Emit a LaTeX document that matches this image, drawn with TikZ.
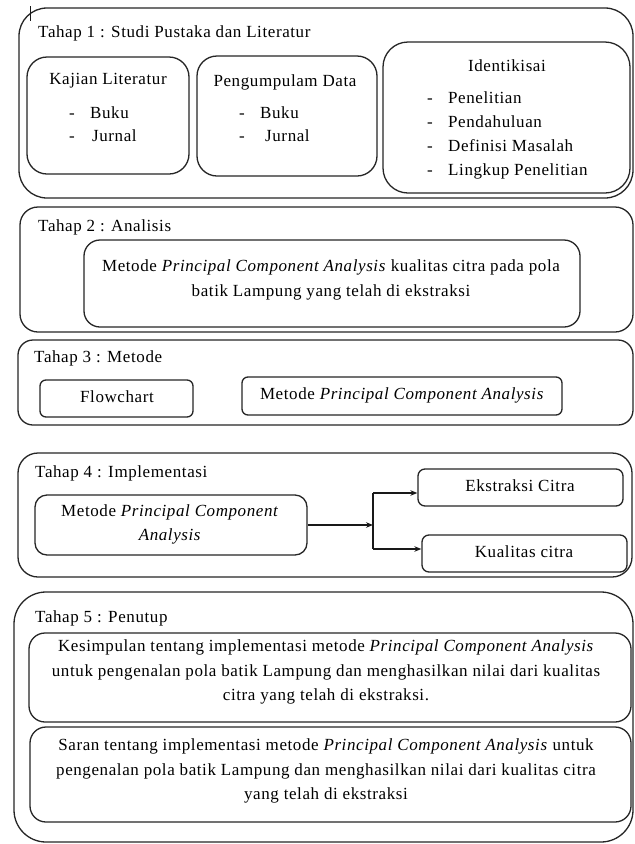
\documentclass[tikz,border=0pt]{standalone}
\usepackage{fontspec}
\setmainfont{Liberation Serif}[LetterSpace=3.5]
\usetikzlibrary{arrows.meta}
\begin{document}
\begin{tikzpicture}[x=1pt,y=-1pt,
  frame/.style={draw=black!85, line width=1.3pt, inner sep=0pt},
  lbl/.style={inner sep=0pt, font=\fontsize{17}{24.5}\selectfont, text height=12pt, text depth=4pt},
  para/.style={inner sep=0pt, font=\fontsize{17}{24.5}\selectfont, align=center},
  wire/.style={draw=black!90, line width=1.1pt},
  link/.style={wire, -{Stealth[length=7pt,width=5.5pt]}},
]
\useasboundingbox[fill=white] (0,0) rectangle (635,844);

% ---------- Tahap 1 ----------
\node[frame, rounded corners=28pt, minimum width=614pt, minimum height=190pt] (stage1) at (326,103) {};
\draw[wire, line width=0.8pt] (30,6) -- (30,21);
\node[lbl, anchor=west] (t1) at (38,33) {Tahap 1 : Studi Pustaka dan Literatur};

\node[frame, rounded corners=20pt, minimum width=162pt, minimum height=117pt] (kajian) at (108,115.5) {};
\node[lbl] (kajianT) at (108,80) {Kajian Literatur};
\node[lbl, anchor=west] (kajian1) at (69,114) {\makebox[21pt][l]{-}Buku};
\node[lbl, anchor=west] (kajian2) at (69,137) {\makebox[23pt][l]{-}Jurnal};

\node[frame, rounded corners=20pt, minimum width=180pt, minimum height=120pt] (kumpul) at (287,116) {};
\node[lbl] (kumpulT) at (285,82) {Pengumpulam Data};
\node[lbl, anchor=west] (kumpul1) at (239,114) {\makebox[21pt][l]{-}Buku};
\node[lbl, anchor=west] (kumpul2) at (239,137) {\makebox[26pt][l]{-}Jurnal};

\node[frame, rounded corners=25pt, minimum width=247pt, minimum height=151pt] (ident) at (506.5,117.5) {};
\node[lbl] (identT) at (507,67) {Identikisai};
\node[lbl, anchor=west] (ident1) at (427,99) {\makebox[21pt][l]{-}Penelitian};
\node[lbl, anchor=west] (ident2) at (427,123) {\makebox[21pt][l]{-}Pendahuluan};
\node[lbl, anchor=west] (ident3) at (427,147) {\makebox[21pt][l]{-}Definisi Masalah};
\node[lbl, anchor=west] (ident4) at (427,171) {\makebox[21pt][l]{-}Lingkup Penelitian};

% ---------- Tahap 2 ----------
\node[frame, rounded corners=18pt, minimum width=613pt, minimum height=125pt] (stage2) at (326.5,269.5) {};
\node[lbl, anchor=west] (t2) at (38,227) {Tahap 2 : Analisis};
\node[frame, rounded corners=16pt, minimum width=496pt, minimum height=87pt] (analisis) at (332,283.5) {};
\node[para] (analisisT) at (331,280) {Metode \textit{Principal Component Analysis} kualitas citra pada pola\\ batik Lampung yang telah di ekstraksi};

% ---------- Tahap 3 ----------
\node[frame, rounded corners=15pt, minimum width=615pt, minimum height=85pt] (stage3) at (325.5,382.5) {};
\node[lbl, anchor=west] (t3) at (34,358) {Tahap 3 : Metode};
\node[frame, rounded corners=6pt, minimum width=153pt, minimum height=37pt] (flow) at (116.5,398.5) {};
\node[lbl] (flowT) at (117,398) {Flowchart};
\node[frame, rounded corners=6pt, minimum width=320pt, minimum height=38pt] (pca3) at (402,396) {};
\node[lbl] (pca3T) at (402,395) {Metode \textit{Principal Component Analysis}};

% ---------- Tahap 4 ----------
\node[frame, rounded corners=20pt, minimum width=614pt, minimum height=124pt] (stage4) at (325,515) {};
\node[lbl, anchor=west] (t4) at (35,473) {Tahap 4 : Implementasi};
\node[frame, rounded corners=12pt, minimum width=272pt, minimum height=60pt] (pca4) at (171,525) {};
\node[para] (pca4T) at (170,524.5) {Metode \textit{Principal Component}\\ \textit{Analysis}};
\node[frame, rounded corners=7pt, minimum width=205pt, minimum height=37pt] (ekstr) at (520.5,487.5) {};
\node[lbl] (ekstrT) at (520,487) {Ekstraksi Citra};
\node[frame, rounded corners=7pt, minimum width=205pt, minimum height=37pt] (kual) at (524.5,553.5) {};
\node[lbl] (kualT) at (524,553) {Kualitas citra};

\coordinate (split) at (373,525);
\coordinate (upper) at (373,493);
\coordinate (lower) at (373,549);
\draw[link] (pca4.east) -- (split);
\draw[wire] (upper) -- (lower);
\draw[link] (upper) -- (upper -| ekstr.west);
\draw[link] (lower) -- (lower -| kual.west);

% ---------- Tahap 5 ----------
\node[frame, rounded corners=32pt, minimum width=619pt, minimum height=250pt] (stage5) at (323.5,717) {};
\node[lbl, anchor=west] (t5) at (35,618) {Tahap 5 : Penutup};
\node[frame, rounded corners=16pt, minimum width=602pt, minimum height=89pt] (simpul) at (330,677.5) {};
\node[para] (simpulT) at (326,672) {Kesimpulan tentang implementasi metode \textit{Principal Component Analysis}\\ untuk pengenalan pola batik Lampung dan menghasilkan nilai dari kualitas\\ citra yang telah di ekstraksi.};
\node[frame, rounded corners=16pt, minimum width=601pt, minimum height=95pt] (saran) at (330.5,774.5) {};
\node[para] (saranT) at (326,771) {Saran tentang implementasi metode \textit{Principal Component Analysis} untuk\\ pengenalan pola batik Lampung dan menghasilkan nilai dari kualitas citra\\ yang telah di ekstraksi};
\end{tikzpicture}
\end{document}
